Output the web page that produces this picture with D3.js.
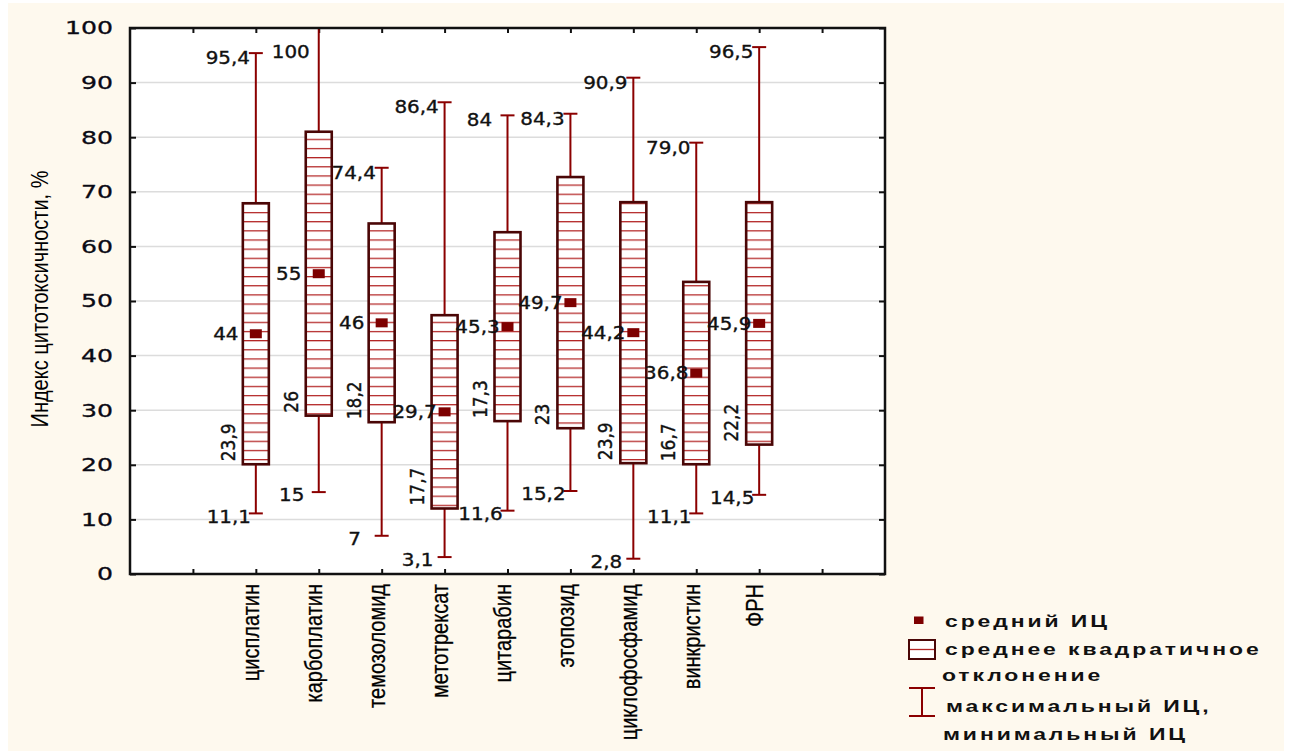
<!DOCTYPE html>
<html>
<head>
<meta charset="utf-8">
<script src="https://cdn.jsdelivr.net/npm/d3@7"></script>
<style>
  html, body { margin: 0; padding: 0; background: #ffffff; }
  svg { display: block; }
</style>
</head>
<body>
<svg id="chart" width="1291" height="751"></svg>
<script>
// ---------------- data ----------------
const categories = ["цисплатин", "карбоплатин", "темозоломид", "метотрексат", "цитарабин", "этопозид", "циклофосфамид", "винкристин", "ФРН"];
const meanValues = [44, 55, 46, 29.7, 45.3, 49.7, 44.2, 36.8, 45.9];
const sdValues   = [23.9, 26, 18.2, 17.7, 17.3, 23, 23.9, 16.7, 22.2];
const maxValues  = [95.4, 100, 74.4, 86.4, 84, 84.3, 90.9, 79.0, 96.5];
const minValues  = [11.1, 15, 7, 3.1, 11.6, 15.2, 2.8, 11.1, 14.5];
const meanLabels = ["44", "55", "46", "29,7", "45,3", "49,7", "44,2", "36,8", "45,9"];
const sdLabels   = ["23,9", "26", "18,2", "17,7", "17,3", "23", "23,9", "16,7", "22,2"];
const maxLabels  = ["95,4", "100", "74,4", "86,4", "84", "84,3", "90,9", "79,0", "96,5"];
const minLabels  = ["11,1", "15", "7", "3,1", "11,6", "15,2", "2,8", "11,1", "14,5"];
const yTicks = [0, 10, 20, 30, 40, 50, 60, 70, 80, 90, 100];
const xTicks = [1, 2, 3, 4, 5, 6, 7, 8, 9, 10, 11];
const yAxisTitle = "Индекс цитотоксичности, %";
const legendItems = [
  ["средний ИЦ"],
  ["среднее квадратичное", "отклонение"],
  ["максимальный ИЦ,", "минимальный ИЦ"]
];

// ---------------- layout ----------------
const W = 1291, H = 751;
const plot = { left: 130, right: 885, top: 28, bottom: 574 };
const svg = d3.select("#chart");

const x = d3.scaleLinear().domain([0, 12]).range([plot.left, plot.right]);
const y = d3.scaleLinear().domain([0, 100]).range([plot.bottom, plot.top]);
const catPos = i => x(i + 2);

const colWhisker = "#8b0000";
const colBox = "#4a0606";
const colHatch = "#b32424";
const colMean = "#7d0000";
const numFont = "'DejaVu Sans', Verdana, sans-serif";
const txtFont = "'Liberation Sans', Arial, sans-serif";

// background
svg.append("rect").attr("x", 0).attr("y", 0).attr("width", W).attr("height", H).attr("fill", "#ffffff");
svg.append("rect").attr("x", 8).attr("y", 3).attr("width", 1276).attr("height", H - 3).attr("fill", "#fef9ee");
svg.append("rect").attr("x", plot.left).attr("y", plot.top)
  .attr("width", plot.right - plot.left).attr("height", plot.bottom - plot.top).attr("fill", "#ffffff");

// hatch pattern
const defs = svg.append("defs");
const pat = defs.append("pattern").attr("id", "hatch").attr("patternUnits", "userSpaceOnUse")
  .attr("x", 0).attr("y", 1.5).attr("width", 20).attr("height", 9.15);
pat.append("rect").attr("width", 20).attr("height", 9.15).attr("fill", "#ffffff");
pat.append("line").attr("x1", 0).attr("x2", 20).attr("y1", 0.6).attr("y2", 0.6)
  .attr("stroke", colHatch).attr("stroke-width", 1.3);

// gridlines
svg.append("g").selectAll("line").data(yTicks.filter(t => t > 0 && t < 100)).join("line")
  .attr("x1", plot.left).attr("x2", plot.right)
  .attr("y1", d => y(d)).attr("y2", d => y(d))
  .attr("stroke", "#dcdcdc").attr("stroke-width", 1.5);

// axes via d3 axis (inner ticks)
const axL = svg.append("g").attr("transform", `translate(${plot.left},0)`)
  .call(d3.axisRight(y).tickValues(yTicks).tickSize(6).tickFormat(""));
const axR = svg.append("g").attr("transform", `translate(${plot.right},0)`)
  .call(d3.axisLeft(y).tickValues(yTicks).tickSize(6).tickFormat(""));
const axT = svg.append("g").attr("transform", `translate(0,${plot.top})`)
  .call(d3.axisBottom(x).tickValues(xTicks).tickSize(5).tickFormat(""));
const axB = svg.append("g").attr("transform", `translate(0,${plot.bottom})`)
  .call(d3.axisTop(x).tickValues(xTicks).tickSize(5).tickFormat(""));
[axL, axR, axT, axB].forEach(a => {
  a.select(".domain").remove();
  a.selectAll(".tick line").attr("stroke", "#111").attr("stroke-width", 2);
});

// y tick labels
svg.append("g").selectAll("text").data(yTicks).join("text")
  .attr("transform", d => `translate(113,${y(d)}) scale(1.4,1)`)
  .attr("text-anchor", "end").attr("dy", "0.36em")
  .attr("font-family", numFont).attr("font-size", 18).attr("fill", "#0a0a14")
  .attr("stroke", "#0a0a14").attr("stroke-width", 0.3)
  .text(d => d);

// y axis title
svg.append("text")
  .attr("transform", `translate(48,${(plot.top + plot.bottom) / 2 - 2}) scale(1.15,1) rotate(-90)`)
  .attr("text-anchor", "middle")
  .attr("font-family", txtFont).attr("font-size", 20).attr("fill", "#000")
  .text(yAxisTitle);

// category labels
svg.append("g").selectAll("text").data(categories).join("text")
  .attr("transform", (d, i) => `translate(${catPos(i)},584) scale(1.2,1) rotate(-90)`)
  .attr("text-anchor", "end").attr("dy", 3)
  .attr("font-family", txtFont).attr("font-size", 20).attr("fill", "#000")
  .attr("stroke", "#000").attr("stroke-width", 0.25)
  .text(d => d);

// whiskers
const gW = svg.append("g");
categories.forEach((c, i) => {
  const cx = catPos(i);
  gW.append("line").attr("x1", cx).attr("x2", cx).attr("y1", y(maxValues[i])).attr("y2", y(minValues[i]))
    .attr("stroke", colWhisker).attr("stroke-width", 2);
  [maxValues[i], minValues[i]].forEach(v => {
    if (v < 100) gW.append("line").attr("x1", cx - 7).attr("x2", cx + 7).attr("y1", y(v)).attr("y2", y(v))
      .attr("stroke", colWhisker).attr("stroke-width", 2);
  });
});

// boxes (mean ± SD)
const boxHalf = 13;
svg.append("g").selectAll("rect").data(categories).join("rect")
  .attr("x", (d, i) => catPos(i) - boxHalf)
  .attr("y", (d, i) => y(meanValues[i] + sdValues[i]))
  .attr("width", boxHalf * 2)
  .attr("height", (d, i) => y(meanValues[i] - sdValues[i]) - y(meanValues[i] + sdValues[i]))
  .attr("fill", "url(#hatch)").attr("stroke", colBox).attr("stroke-width", 2.6);

// mean markers
svg.append("g").selectAll("rect").data(meanValues).join("rect")
  .attr("x", (d, i) => catPos(i) - 6).attr("y", d => y(d) - 4.5)
  .attr("width", 12).attr("height", 9).attr("fill", colMean);

// value labels
const lab = svg.append("g").attr("font-family", numFont).attr("font-size", 17).attr("fill", "#111")
  .attr("stroke", "#111").attr("stroke-width", 0.35);
function hLabel(px, py, t) {
  lab.append("text").attr("transform", `translate(${px},${py}) scale(1.17,1)`)
    .attr("text-anchor", "middle").attr("dy", "0.36em").text(t);
}
categories.forEach((c, i) => {
  const cx = catPos(i);
  hLabel(cx - 30, y(meanValues[i]), meanLabels[i]);
  hLabel(cx - 28, Math.max(y(maxValues[i]) + 5, plot.top + 24), maxLabels[i]);
  hLabel(cx - 27, y(minValues[i]) + 3, minLabels[i]);
  lab.append("text")
    .attr("transform", `translate(${cx - 21},${y(meanValues[i] - sdValues[i]) - 3}) scale(1.17,1) rotate(-90)`)
    .attr("text-anchor", "start").text(sdLabels[i]);
});

// frame
svg.append("rect").attr("x", plot.left).attr("y", plot.top)
  .attr("width", plot.right - plot.left).attr("height", plot.bottom - plot.top)
  .attr("fill", "none").attr("stroke", "#111").attr("stroke-width", 2.5);

// legend
const lg = svg.append("g");
function legLine(px, py, t) {
  lg.append("text").attr("transform", `translate(${px},${py}) scale(1.35,1)`)
    .attr("font-family", txtFont).attr("font-size", 17).attr("font-weight", "bold")
    .attr("letter-spacing", 2.15).attr("fill", "#111")
    .text(t);
}
// item 1: mean marker
lg.append("rect").attr("x", 914).attr("y", 616.5).attr("width", 9.5).attr("height", 7.5).attr("fill", colMean);
legLine(945, 627, legendItems[0][0]);
// item 2: box
lg.append("rect").attr("x", 909).attr("y", 640).attr("width", 26).attr("height", 19)
  .attr("fill", "#fff").attr("stroke", colBox).attr("stroke-width", 2);
lg.append("line").attr("x1", 910).attr("x2", 934).attr("y1", 649.5).attr("y2", 649.5)
  .attr("stroke", colHatch).attr("stroke-width", 1.3);
legLine(945, 655, legendItems[1][0]);
legLine(942, 681, legendItems[1][1]);
// item 3: whisker
lg.append("line").attr("x1", 922).attr("x2", 922).attr("y1", 688).attr("y2", 716).attr("stroke", colWhisker).attr("stroke-width", 2);
lg.append("line").attr("x1", 909).attr("x2", 935).attr("y1", 688).attr("y2", 688).attr("stroke", colWhisker).attr("stroke-width", 2);
lg.append("line").attr("x1", 909).attr("x2", 935).attr("y1", 716).attr("y2", 716).attr("stroke", colWhisker).attr("stroke-width", 2);
legLine(946, 712, legendItems[2][0]);
legLine(943, 740, legendItems[2][1]);
</script>
</body>
</html>
